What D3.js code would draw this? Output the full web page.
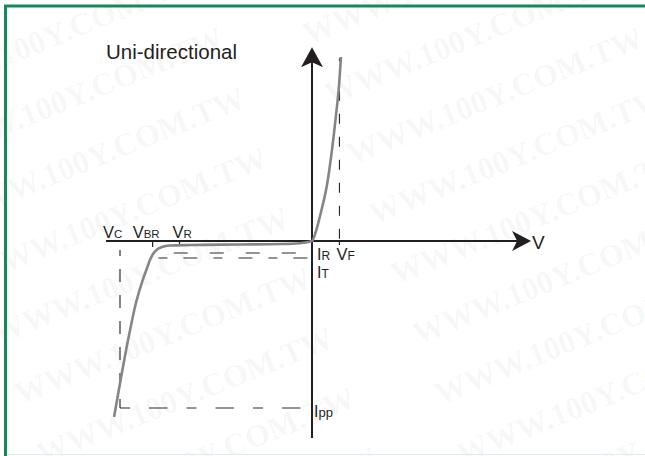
<!DOCTYPE html>
<html>
<head>
<meta charset="utf-8">
<style>
  html, body { margin: 0; padding: 0; background: #fff; }
  svg { display: block; font-family: 'Liberation Sans', Arial, sans-serif; }
</style>
</head>
<body>
<script src="https://d3js.org/d3.v7.min.js"></script>
<script>
// TVS diode I-V curve, uni-directional (normalised units: Vc = -1, Ipp = -1)
var curveV = [-1.031, -0.995, -0.958, -0.917, -0.880, -0.859, -0.844, -0.828, -0.807, -0.781, -0.740,
              -0.635, -0.375, -0.167, -0.063, 0, 0.021, 0.047, 0.078, 0.104, 0.125, 0.141, 0.151];
var curveI = [-1.054, -0.820, -0.593, -0.371, -0.228, -0.162, -0.114, -0.078, -0.051, -0.036, -0.027,
              -0.024, -0.021, -0.018, -0.013, 0, 0.060, 0.174, 0.335, 0.545, 0.754, 0.934, 1.102];

// characteristic points
var Vc = -1, Vbr = -0.83, Vr = -0.69, Vf = 0.143;
var Ipp = -1, Ir = -0.072, It = -0.102, Imax = 1.10;

// axis extents
var vMin = -1.073, vMax = 1.141, iMin = -1.18, iMax = 1.16;

var labelMain = ["V", "V", "V", "I", "V", "I", "I"];
var labelSub  = ["C", "BR", "R", "R", "F", "T", "pp"];

var W = 645, H = 456;
var svg = d3.select("body").append("svg").attr("width", W).attr("height", H);

// watermark
var wm = svg.append("g").attr("fill", "#000").attr("fill-opacity", 0.045)
  .attr("font-family", "'Liberation Serif', 'Times New Roman', serif")
  .attr("font-weight", "bold").attr("font-size", 32);
for (var r = -4; r < 10; r++) {
  for (var c = -1; c < 2; c++) {
    var tx = -90 + c * 420 + r * 22, ty = 105 + r * 60;
    wm.append("text").attr("transform", "translate(" + tx + "," + ty + ") rotate(-22)")
      .text("WWW.100Y.COM.TW");
  }
}

// frame
svg.append("line").attr("x1", 4).attr("x2", W).attr("y1", 6).attr("y2", 6)
  .attr("stroke", "#16895a").attr("stroke-width", 3);
svg.append("line").attr("x1", 5.5).attr("x2", 5.5).attr("y1", 5).attr("y2", H)
  .attr("stroke", "#16895a").attr("stroke-width", 3);
svg.append("line").attr("x1", 7).attr("x2", W).attr("y1", 454.5).attr("y2", 454.5)
  .attr("stroke", "#dfece6").attr("stroke-width", 1);

var x = d3.scaleLinear().domain([-1, 0]).range([120, 312]);
var y = d3.scaleLinear().domain([-1, 0]).range([408, 241]);

// dashed guides
var guides = svg.append("g").attr("stroke", "#2a2a2a").attr("stroke-width", 1.15).attr("fill", "none");
guides.append("line").attr("x1", x(Vc)).attr("x2", x(Vc)).attr("y1", y(-0.054)).attr("y2", y(Ipp))
  .attr("stroke-dasharray", "13,13").attr("stroke-dashoffset", 7);
guides.append("line").attr("x1", x(Vc)).attr("x2", x(-0.03)).attr("y1", y(Ipp)).attr("y2", y(Ipp))
  .attr("stroke-dasharray", "10,19,18.5,19");
guides.append("line").attr("x1", x(Vf)).attr("x2", x(Vf)).attr("y1", y(Imax) + 1).attr("y2", y(Imax) + 4);
guides.append("line").attr("x1", x(Vf)).attr("x2", x(Vf)).attr("y1", y(0.9)).attr("y2", y(0))
  .attr("stroke-dasharray", "10,13");
guides.append("line").attr("x1", x(-0.72)).attr("x2", x(-0.01)).attr("y1", y(Ir)).attr("y2", y(Ir))
  .attr("stroke-dasharray", "14,22");
guides.append("line").attr("x1", x(-0.8)).attr("x2", x(-0.01)).attr("y1", y(It)).attr("y2", y(It))
  .attr("stroke-dasharray", "9,16,14,16");

// axes
var axes = svg.append("g").attr("stroke", "#231f20").attr("stroke-width", 2);
axes.append("line").attr("x1", x(vMin)).attr("x2", x(vMax) - 8).attr("y1", y(0)).attr("y2", y(0));
axes.append("line").attr("x1", x(0)).attr("x2", x(0)).attr("y1", y(iMin)).attr("y2", y(iMax) + 8);

// ticks
[[Vbr, 6], [Vr, 4], [Vf, 4]].forEach(function (t) {
  axes.append("line").attr("x1", x(t[0])).attr("x2", x(t[0]))
    .attr("y1", y(0)).attr("y2", y(0) + t[1]).attr("stroke-width", 1.2);
});

// arrow heads
var ax = x(vMax), ay = y(0);
svg.append("path").attr("fill", "#231f20")
  .attr("d", "M" + ax + "," + ay + " L" + (ax - 19) + "," + (ay - 10) + " L" + (ax - 14) + "," + ay +
             " L" + (ax - 19) + "," + (ay + 10) + " Z");
var bx = x(0), by = y(iMax);
svg.append("path").attr("fill", "#231f20")
  .attr("d", "M" + bx + "," + by + " L" + (bx - 11) + "," + (by + 20) + " L" + bx + "," + (by + 15) +
             " L" + (bx + 11) + "," + (by + 20) + " Z");

// characteristic curve
var pts = curveV.map(function (v, i) { return [v, curveI[i]]; });
var line = d3.line().x(function (d) { return x(d[0]); }).y(function (d) { return y(d[1]); })
  .curve(d3.curveMonotoneX);
svg.append("path").datum(pts).attr("d", line)
  .attr("fill", "none").attr("stroke", "#858585").attr("stroke-width", 2.6);

// labels
var labelX = [x(Vc) - 17, x(Vbr) - 20, x(Vr) - 7, x(0) + 5, x(Vf) - 3, x(0) + 5, x(0) + 2];
var labelY = [y(0) - 3, y(0) - 3, y(0) - 3, y(Ir) + 6.5, y(Ir) + 6.5, y(It) + 20, y(Ipp) + 9];
var mainSize = [16.5, 16.5, 16.5, 16, 16.5, 16, 16];
var subSize  = [11.5, 11.5, 11.5, 12, 12, 12, 13];

var lab = svg.append("g").attr("fill", "#231f20");
labelMain.forEach(function (m, i) {
  var t = lab.append("text").attr("x", labelX[i]).attr("y", labelY[i]);
  t.append("tspan").attr("font-size", mainSize[i]).text(m);
  t.append("tspan").attr("font-size", subSize[i]).text(labelSub[i]);
});

svg.append("text").attr("x", x(vMax) + 1).attr("y", y(0) + 8)
  .attr("font-size", 19).attr("fill", "#231f20").text("V");

svg.append("text").attr("x", 106).attr("y", 59)
  .attr("font-size", 20.5).attr("fill", "#231f20").text("Uni-directional");
</script>
</body>
</html>
